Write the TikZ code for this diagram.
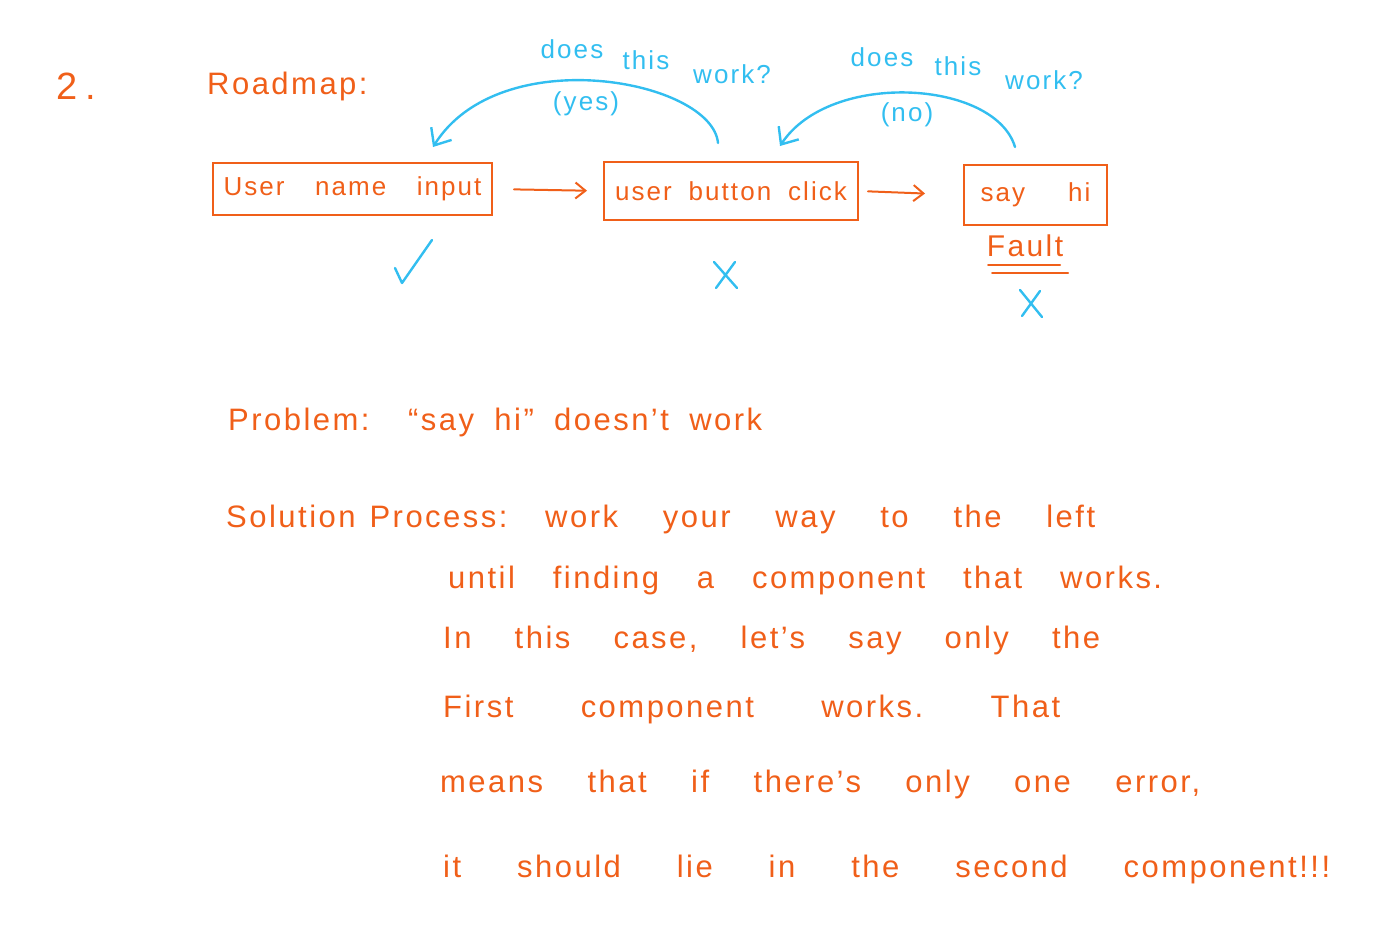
\documentclass[tikz,border=0pt]{standalone}
\usepackage{fontspec}
\setmainfont{Liberation Sans}[LetterSpace=8]
\frenchspacing
\usetikzlibrary{arrows.meta}
\definecolor{ink}{RGB}{240,95,25}
\definecolor{sky}{RGB}{50,190,240}
\tikzset{
  orangeink/.style={color=ink, line width=2pt, line cap=round, line join=round},
  blueink/.style={color=sky, line width=2.4pt, line cap=round, line join=round},
  stagebox/.style={draw=ink, line width=2pt, inner sep=0pt, text=ink, font=\fontsize{26}{30}\selectfont},
  handtext/.style={text=ink, inner sep=0pt, anchor=base west, font=\fontsize{31}{35}\selectfont},
  bluetext/.style={text=sky, inner sep=0pt, font=\fontsize{26}{30}\selectfont},
  barb/.style={-{Straight Barb[length=10pt,width=16pt,line width=2pt]}},
  bigbarb/.style={-{Straight Barb[length=14pt,width=24pt,line width=2.4pt]}}
}
\begin{document}
\begin{tikzpicture}[x=1pt,y=-1pt]
\useasboundingbox (0,0) rectangle (1396,931);
% heading
\node[text=ink, inner sep=0pt, anchor=base west, font=\fontsize{38}{42}\selectfont] (num) at (56,100) {2\hspace{8pt}.};
\node[handtext] (road) at (207,95) {Roadmap:};
% boxes
\node[stagebox, minimum width=279pt, minimum height=52pt] (b1) at (352.5,189) {\makebox[258pt][s]{User name input}};
\node[stagebox, minimum width=254pt, minimum height=58pt] (b2) at (731,191) {\makebox[232pt][s]{user button click}};
\node[stagebox, minimum width=143pt, minimum height=60pt] (b3) at (1035.5,195) {\makebox[110pt][s]{say hi}};
% arrows between boxes
\draw[orangeink, barb, shorten <=21pt, shorten >=16pt] (b1.east) -- (b2.west);
\draw[orangeink, barb, shorten <=9pt, shorten >=38pt] (b2.east) -- (b3.west);
% fault
\node[text=ink, inner sep=0pt, font=\fontsize{30}{34}\selectfont] (fault) at (1025,246) {Fault};
\coordinate (u1a) at (988,265); \coordinate (u1b) at (1060,265);
\coordinate (u2a) at (992,273); \coordinate (u2b) at (1068,273);
\draw[orangeink] (u1a) -- (u1b);
\draw[orangeink] (u2a) -- (u2b);
% blue feedback arcs
\coordinate (a1s) at (718,143); \coordinate (a1e) at (433,147);
\draw[blueink, bigbarb] (a1s) .. controls (712,80) and (500,40) .. (a1e);
\coordinate (a2s) at (1015,147); \coordinate (a2e) at (780,146);
\draw[blueink, bigbarb] (a2s) .. controls (995,80) and (830,70) .. (a2e);
\node[bluetext] (q1a) at (572,49) {does};
\node[bluetext] (q1b) at (646,60) {this};
\node[bluetext] (q1c) at (732,74) {work?};
\node[bluetext] (q2a) at (882,57) {does};
\node[bluetext] (q2b) at (958,66) {this};
\node[bluetext] (q2c) at (1044,80) {work?};
\node[bluetext] (yes) at (586,104) {(yes)};
\node[bluetext] (no) at (907,115) {(no)};
% check and crosses
\coordinate (c1) at (395,268); \coordinate (c2) at (402,283); \coordinate (c3) at (432,240);
\draw[blueink] (c1) -- (c2) -- (c3);
\coordinate (x1a) at (714,262); \coordinate (x1b) at (737,288);
\coordinate (x1c) at (735,262); \coordinate (x1d) at (716,288);
\draw[blueink] (x1a) -- (x1b) (x1c) -- (x1d);
\coordinate (x2a) at (1020,290); \coordinate (x2b) at (1042,317);
\coordinate (x2c) at (1040,291); \coordinate (x2d) at (1022,316);
\draw[blueink] (x2a) -- (x2b) (x2c) -- (x2d);
% text block
\node[handtext] (prob) at (228,430) {Problem:};
\node[handtext] (probt) at (408,430) {\makebox[354pt][s]{``say hi'' doesn't work}};
\node[handtext] (sol) at (226,527) {Solution\hspace{14pt}Process:};
\node[handtext] (l1) at (545,527) {\makebox[550pt][s]{work your way to the left}};
\node[handtext] (l2) at (448,588) {\makebox[714pt][s]{until finding a component that works.}};
\node[handtext] (l3) at (443,648) {\makebox[657pt][s]{In this case, let's say only the}};
\node[handtext] (l4) at (443,717) {\makebox[617pt][s]{First component works. That}};
\node[handtext] (l5) at (440,792) {\makebox[760pt][s]{means that if there's only one error,}};
\node[handtext] (l6) at (443,877) {\makebox[887pt][s]{it should lie in the second component!!!}};
\end{tikzpicture}
\end{document}
